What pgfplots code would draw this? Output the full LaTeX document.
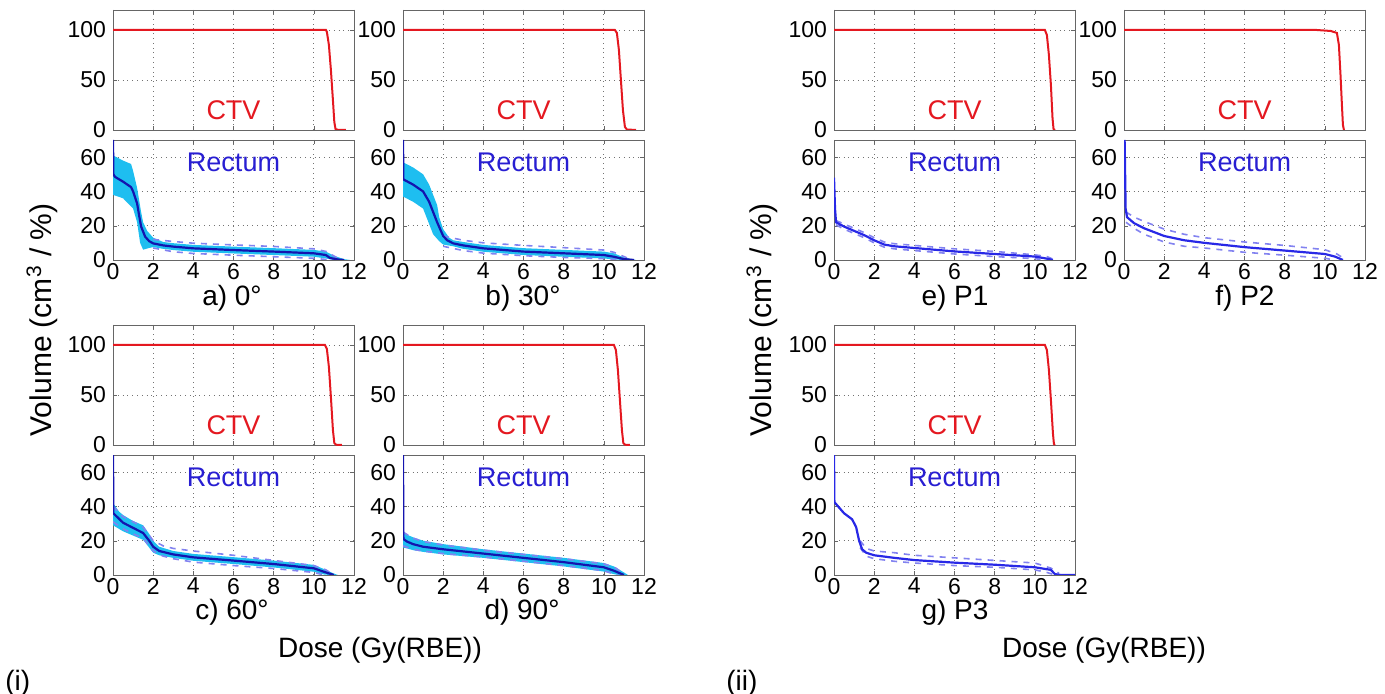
\documentclass[border=0pt]{standalone}
\usepackage{pgfplots}
\pgfplotsset{compat=1.18}
\usepackage{fontspec}
\setmainfont{Liberation Sans}
\definecolor{ctvred}{RGB}{228,24,32}
\definecolor{reclab}{RGB}{40,30,210}
\definecolor{meanblue}{RGB}{20,20,175}
\definecolor{planblue}{RGB}{40,40,230}
\definecolor{bandcyan}{RGB}{30,190,240}
\definecolor{dashblue}{RGB}{130,130,240}
\pgfplotsset{
  dvh/.style={scale only axis, width=120.5pt, height=60pt,
    xmin=0, xmax=12, xtick={0,2,...,12},
    grid=major, grid style={dotted, black!55},
    axis line style={black!60}, tick style={black!60},
    major tick length=2pt,
    /pgf/number format/assume math mode=true,
    ticklabel style={font=\fontsize{11.5}{12}\selectfont},
    xticklabel style={yshift=2pt},
    clip=true},
  ctv/.style={dvh, ymin=0, ymax=120, ytick={0,50,100}, xticklabels={}},
  rec/.style={dvh, ymin=0, ymax=70, ytick={0,20,40,60}},
  ctvline/.style={ctvred, line width=1pt},
  meanline/.style={meanblue, line width=1.1pt},
  planline/.style={planblue, line width=1.1pt},
  band/.style={fill=bandcyan, draw=none},
  dsh/.style={dashblue, dashed, line width=0.8pt},
}
\newcommand{\ctvlab}{\node[ctvred, font=\fontsize{13.5}{14}\selectfont] at (axis cs:6,20) {CTV};}
\newcommand{\reclab}{\node[reclab, font=\fontsize{13.5}{14}\selectfont] at (axis cs:6,57) {Rectum};}
\begin{document}
\begin{tikzpicture}
\path[use as bounding box] (0,0) rectangle (692.5pt,-347pt);
% ---------------- a) 0 deg
\begin{axis}[ctv, at={(56.5pt,-5pt)}, anchor=north west]
\addplot[ctvline] coordinates {(0,100)(10.6,100)(10.65,98)(10.75,85)(10.85,60)(10.95,30)(11.02,8)(11.08,1)(11.2,0.2)(11.6,0)};
\ctvlab
\end{axis}
\begin{axis}[rec, at={(56.5pt,-70pt)}, anchor=north west]
\addplot[band] coordinates {(0,61)(0.5,58)(0.9,56)(1.0,52)(1.2,42)(1.4,28)(1.5,22)(1.7,17)(2.0,13)(2.5,10.5)(3,9.8)(4,8.8)(6,7.8)(8,6.9)(10,5.9)(10.6,4.9)(11,2.5)(11.5,0.5)(11.8,0)
 (11,0)(10.6,0.9)(10,1.9)(8,2.9)(6,3.8)(4,4.8)(3,5.8)(2.5,6.5)(2.0,7.5)(1.8,7)(1.5,6)(1.35,10)(1.2,22)(1.0,30)(0.5,36)(0,38)} -- cycle;
\addplot[dsh] coordinates {(2,12)(3,10.8)(4,9.8)(6,8.8)(8,7.9)(10,6.5)(10.6,5)(11.2,1)(11.5,0)};
\addplot[dsh] coordinates {(2,7)(3,4.8)(4,3.8)(6,2.8)(8,1.9)(10,1)(10.6,0.3)(11,0)};
\addplot[meanline] coordinates {(0,70)(0.02,50)(0.1,48.5)(0.5,45.7)(0.9,42.5)(1.0,40)(1.2,33)(1.3,26)(1.4,19.5)(1.6,13.6)(1.8,11)(2.0,9.7)(2.5,8.5)(3,7.8)(4,6.8)(6,5.8)(8,4.9)(10,3.9)(10.6,2.9)(10.8,1.2)(11.2,0.3)(11.5,0)};
\reclab
\end{axis}
% ---------------- b) 30 deg
\begin{axis}[ctv, at={(201.5pt,-5pt)}, anchor=north west]
\addplot[ctvline] coordinates {(0,100)(10.55,100)(10.65,97)(10.75,80)(10.85,50)(10.95,20)(11.05,3)(11.15,0.5)(11.6,0)};
\ctvlab
\end{axis}
\begin{axis}[rec, at={(201.5pt,-70pt)}, anchor=north west]
\addplot[band] coordinates {(0,57)(0.5,54)(1.0,50)(1.3,44)(1.5,38)(1.7,32)(1.8,25)(2.0,18)(2.3,13)(2.5,11.5)(3,10.5)(4,8.8)(6,6.9)(8,5.9)(10,4.9)(10.5,3.9)(11,1.5)(11.6,0)
 (11,0)(10.5,0.3)(10,0.9)(8,1.9)(6,2.9)(4,4.8)(3,6.5)(2.5,8)(2.0,9)(1.8,11)(1.5,15)(1.3,21)(1.0,30)(0.5,34)(0,37)} -- cycle;
\addplot[dsh] coordinates {(2,14)(3,11.5)(4,10)(6,8.5)(8,7.2)(10,5.8)(10.5,4.5)(11.2,1)(11.5,0)};
\addplot[dsh] coordinates {(2,8)(3,5.5)(4,4)(6,2.5)(8,1.5)(10,0.8)(10.5,0.3)(11,0)};
\addplot[meanline] coordinates {(0,70)(0.02,47)(0.5,44)(1.0,40)(1.3,34)(1.5,28)(1.7,22)(2.0,14)(2.2,11.5)(2.5,9.7)(3,8.5)(4,6.8)(6,4.9)(8,3.9)(10,2.9)(10.5,1.9)(11,0.5)(11.5,0)};
\reclab
\end{axis}
% ---------------- c) 60 deg
\begin{axis}[ctv, at={(56.5pt,-162.5pt)}, anchor=north west]
\addplot[ctvline] coordinates {(0,100)(10.55,100)(10.65,96)(10.75,78)(10.85,48)(10.95,15)(11.02,2)(11.1,0.3)(11.4,0)};
\ctvlab
\end{axis}
\begin{axis}[rec, at={(56.5pt,-227.5pt)}, anchor=north west]
\addplot[band] coordinates {(0,42)(0.3,37)(0.5,35)(1,31.5)(1.5,29)(1.8,24)(2.0,20)(2.3,16.5)(3,14)(4,12.3)(6,10.4)(8,8.4)(10,5.9)(10.6,3)(11,0.8)(11.2,0)
 (10.8,0)(10.5,0.3)(10,1.9)(8,4.4)(6,6.4)(4,8.3)(3,10)(2.3,11.5)(2.0,13)(1.8,16)(1.5,20.5)(1,23)(0.5,25.5)(0,29)} -- cycle;
\addplot[dsh] coordinates {(0,40)(0.5,34)(1,31)(1.5,28)(2,20)(2.5,17)(3,15.5)(4,14)(6,11.5)(8,8.5)(10,5.5)(10.6,3)(11,0)};
\addplot[dsh] coordinates {(0,31)(0.5,27)(1,24)(1.5,21.5)(2,14)(2.5,11)(3,9.5)(4,7.5)(6,5.5)(8,3.8)(10,1.5)(10.5,0)};
\addplot[meanline] coordinates {(0,70)(0.02,36)(0.5,30.5)(1,27.5)(1.5,24.5)(1.8,20)(2.0,16.5)(2.3,14)(3,12)(4,10.3)(6,8.4)(8,6.4)(10,3.9)(10.6,1.5)(11,0)};
\reclab
\end{axis}
% ---------------- d) 90 deg
\begin{axis}[ctv, at={(201.5pt,-162.5pt)}, anchor=north west]
\addplot[ctvline] coordinates {(0,100)(10.5,100)(10.6,95)(10.7,75)(10.8,45)(10.9,15)(10.97,2)(11.05,0.3)(11.3,0)};
\ctvlab
\end{axis}
\begin{axis}[rec, at={(201.5pt,-227.5pt)}, anchor=north west]
\addplot[band] coordinates {(0,26)(0.2,23.5)(0.5,22)(1,20)(2,18)(4,15)(6,12.5)(8,10)(10,7)(10.5,5)(11,1.5)(11.2,0)
 (10.7,0)(10.5,0.5)(10,2)(8,5)(6,7.5)(4,10)(2,12)(1,13.5)(0.5,14.5)(0.2,15.5)(0,16)} -- cycle;
\addplot[dsh] coordinates {(0,25)(0.5,21.5)(1,19.5)(2,17.5)(4,14.5)(6,12)(8,9.5)(10,6.5)(10.6,4)(11,0.5)};
\addplot[dsh] coordinates {(0,17)(0.5,15)(1,14)(2,12.5)(4,10.5)(6,8)(8,5.5)(10,2.5)(10.5,0.5)(10.7,0)};
\addplot[meanline] coordinates {(0,70)(0.02,21)(0.2,19.5)(0.5,18)(1,16.5)(2,15)(4,12.5)(6,10)(8,7.5)(10,4.5)(10.5,2.5)(10.8,1)(11,0)};
\reclab
\end{axis}
% ---------------- e) P1
\begin{axis}[ctv, at={(417pt,-5pt)}, anchor=north west]
\addplot[ctvline] coordinates {(0,100)(10.5,100)(10.6,95)(10.7,75)(10.8,45)(10.88,12)(10.93,1)(11,0)};
\ctvlab
\end{axis}
\begin{axis}[rec, at={(417pt,-70pt)}, anchor=north west]
\addplot[dsh] coordinates {(0.1,23)(0.5,21)(1,18.5)(1.5,16)(2,13)(2.5,10.5)(3,9.5)(4,8.5)(6,6.5)(8,5)(10,3)(10.6,2)(11,0)};
\addplot[dsh] coordinates {(0.1,20.5)(0.5,18)(1,15.5)(1.5,13)(2,10)(2.5,7.5)(3,6.5)(4,5.5)(6,3.5)(8,2)(10,0.8)(10.5,0)};
\addplot[planline] coordinates {(0,48)(0.05,30)(0.1,22)(0.5,19.5)(1,17)(1.5,14.5)(2,11.5)(2.5,9)(3,8)(4,7)(6,5)(8,3.5)(10,2)(10.5,1)(10.9,0)};
\reclab
\end{axis}
% ---------------- f) P2
\begin{axis}[ctv, at={(562pt,-5pt)}, anchor=north west]
\addplot[ctvline] coordinates {(0,100)(9.6,100)(10.3,99)(10.6,97)(10.7,85)(10.78,55)(10.85,25)(10.9,5)(10.95,0)};
\ctvlab
\end{axis}
\begin{axis}[rec, at={(562pt,-70pt)}, anchor=north west]
\addplot[dsh] coordinates {(0.1,28)(0.5,25)(1,22.5)(2,18)(3,15)(4,13)(6,10.5)(8,8.5)(10,6)(10.6,3.5)(11,0.5)};
\addplot[dsh] coordinates {(0.1,22)(0.5,18.5)(1,15)(2,10.5)(3,8)(4,7)(6,4.5)(8,2.8)(10,1)(10.5,0)};
\addplot[planline] coordinates {(0.03,70)(0.05,55)(0.08,30)(0.15,25)(0.5,21.5)(1,18.5)(2,14)(3,11.5)(4,10)(6,7.5)(8,5.5)(10,3.5)(10.5,2)(10.9,0)};
\reclab
\end{axis}
% ---------------- g) P3
\begin{axis}[ctv, at={(417pt,-162.5pt)}, anchor=north west]
\addplot[ctvline] coordinates {(0,100)(10.5,100)(10.6,95)(10.7,75)(10.8,45)(10.9,12)(10.95,1)(11,0)};
\ctvlab
\end{axis}
\begin{axis}[rec, at={(417pt,-227.5pt)}, anchor=north west]
\addplot[dsh] coordinates {(1.3,20)(1.6,15.5)(2,14)(3,13)(4,11.5)(6,10)(8,8.5)(10,7)(10.8,4)(11.2,1)};
\addplot[dsh] coordinates {(1.3,16)(1.6,11)(2,9.5)(3,8)(4,7)(6,5.5)(8,4.5)(10,3)(10.6,1.5)(11,0)};
\addplot[planline] coordinates {(0,70)(0.02,42.5)(0.5,36)(0.9,32.5)(1.1,28)(1.25,20)(1.4,15)(1.6,13)(2,11.5)(3,10)(4,8.7)(6,7.2)(8,6)(10,4.5)(10.8,3)(11,0.5)(11.3,0)(12,0)};
\reclab
\end{axis}
% ---------------- outer texts
\begin{scope}[every node/.style={font=\fontsize{14}{15}\selectfont, inner sep=0pt}]
\node at (116pt,-149pt) {a) 0°};
\node at (261.5pt,-149pt) {b) 30°};
\node at (116pt,-306pt) {c) 60°};
\node at (261pt,-306pt) {d) 90°};
\node at (477.5pt,-149pt) {e) P1};
\node at (622.5pt,-149pt) {f) P2};
\node at (477.5pt,-306pt) {g) P3};
\node at (190pt,-325pt) {Dose (Gy(RBE))};
\node at (552pt,-325pt) {Dose (Gy(RBE))};
\node[anchor=west] at (2.5pt,-341.5pt) {(i)};
\node[anchor=west] at (363pt,-341.5pt) {(ii)};
\node[rotate=90, font=\fontsize{15}{16}\selectfont] at (21pt,-160pt) {Volume (cm\textsuperscript{3} / \%)};
\node[rotate=90, font=\fontsize{15}{16}\selectfont] at (381pt,-160pt) {Volume (cm\textsuperscript{3} / \%)};
\end{scope}
\end{tikzpicture}
\end{document}
